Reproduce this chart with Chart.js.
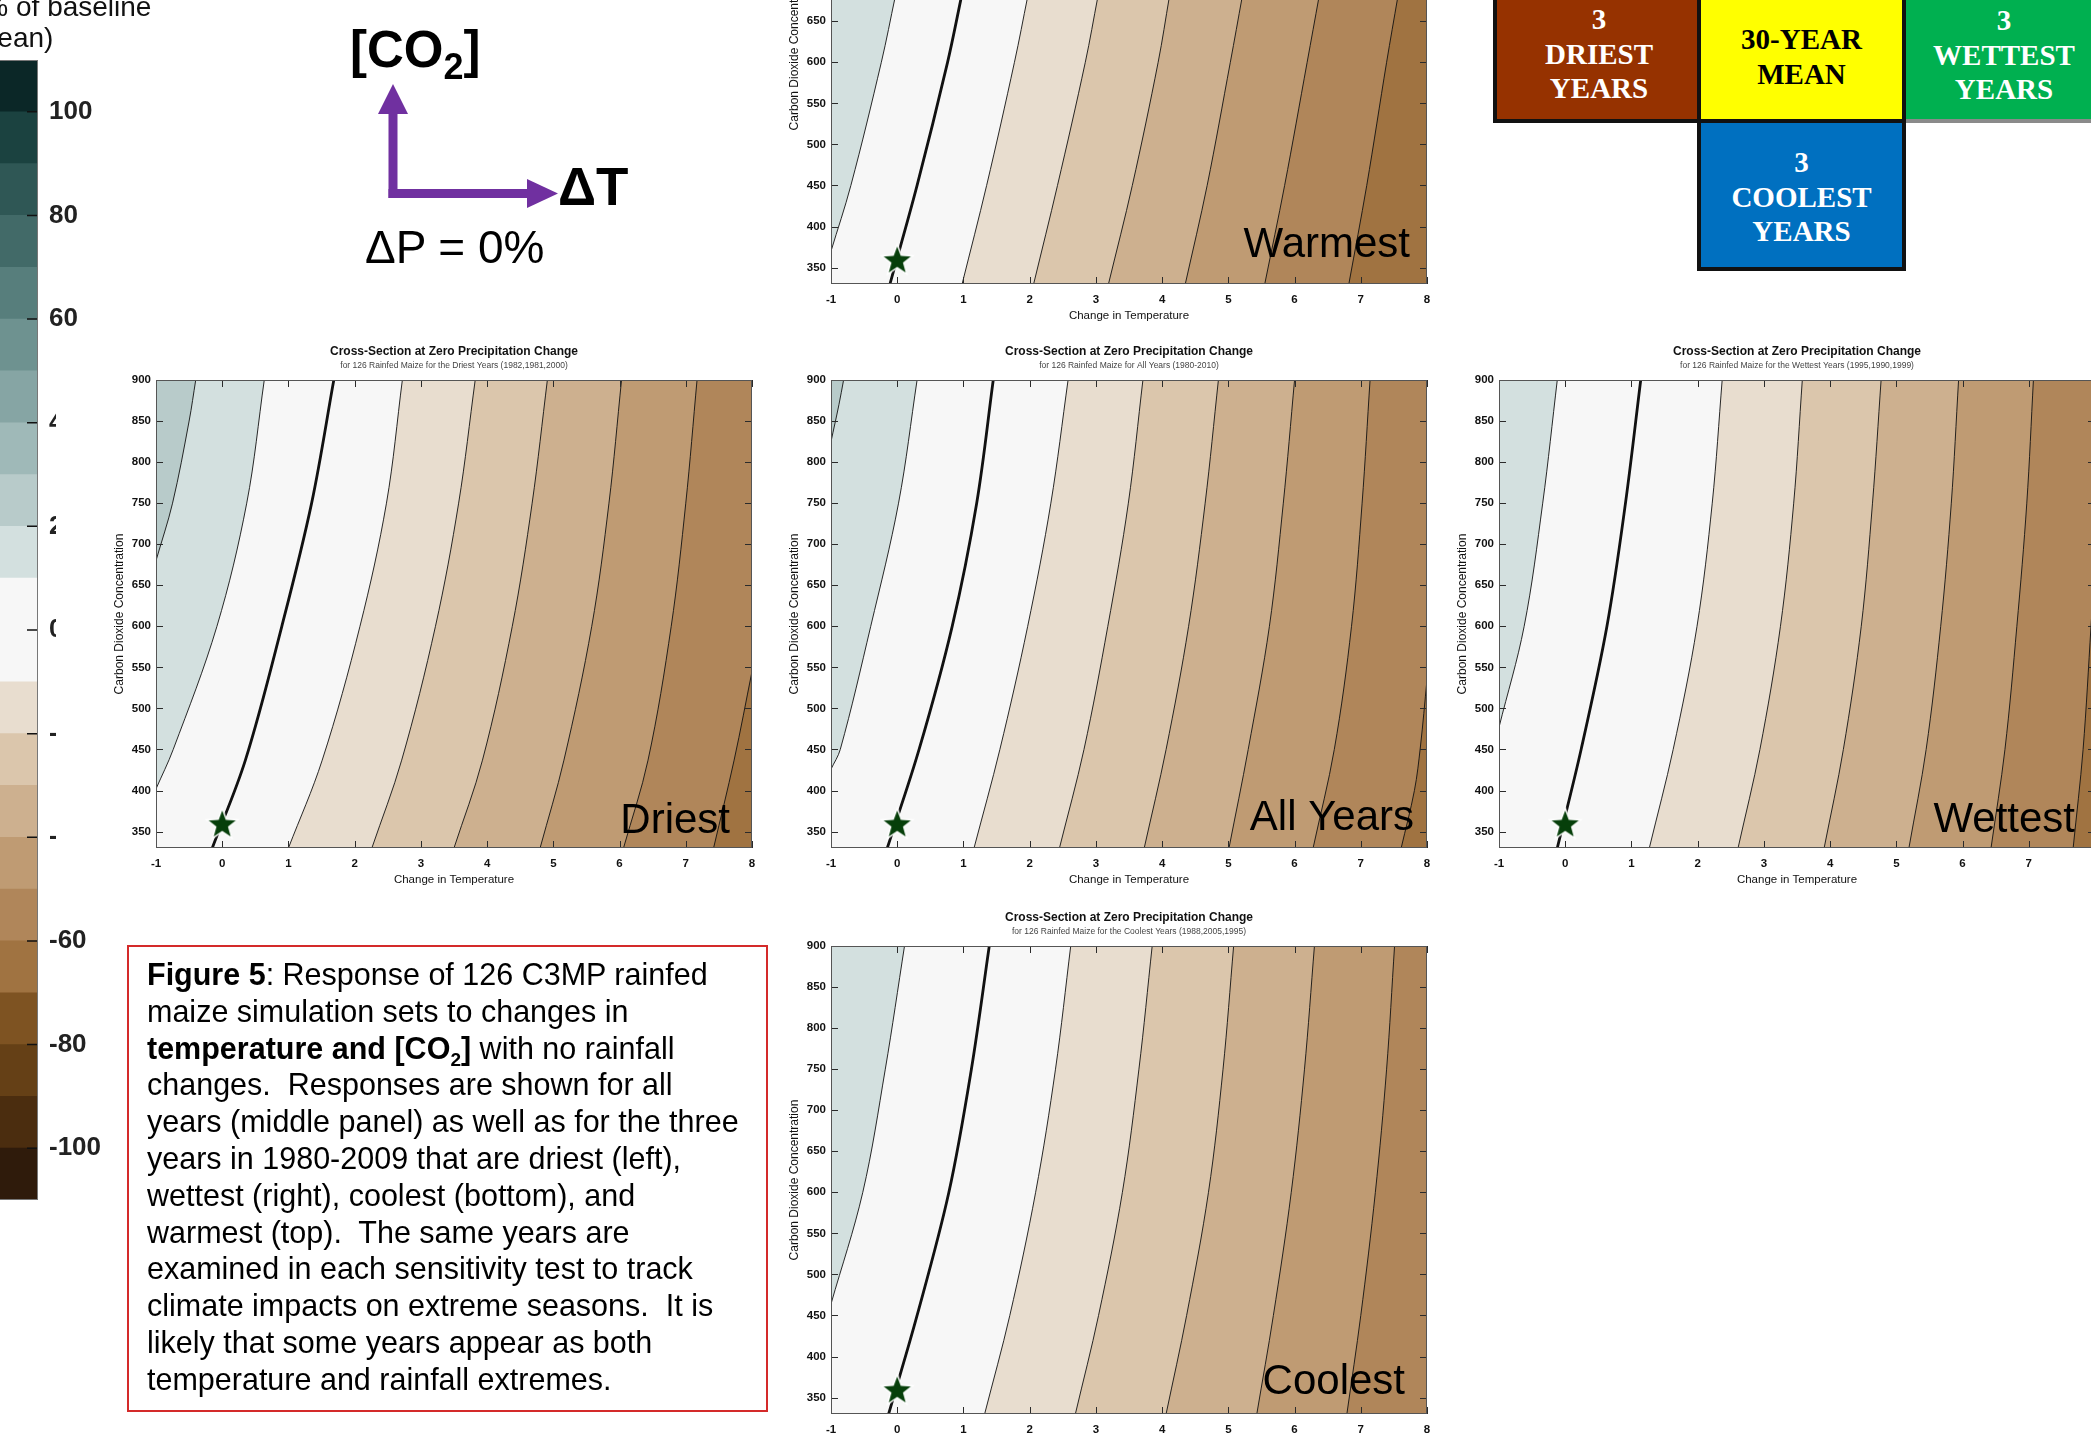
<!DOCTYPE html>
<html>
<head>
<meta charset="utf-8">
<title>Figure 5 - cross-sections at zero precipitation change</title>
<script src="https://cdn.jsdelivr.net/npm/chart.js@4.4.1/dist/chart.umd.min.js"></script>
<style>
  html, body { margin: 0; padding: 0; background: #fff; }
  body {
    position: relative; width: 2091px; height: 1440px; overflow: hidden;
    font-family: 'Liberation Sans', Arial, sans-serif; color: #000;
  }
  canvas { position: absolute; }
  #driest { background: #fff; }
  .abs { position: absolute; white-space: nowrap; line-height: 1; }
  .box {
    position: absolute; box-sizing: border-box; text-align: center;
    font-family: 'Liberation Serif', 'Times New Roman', serif; font-weight: bold;
    font-size: 29px; line-height: 34.5px; color: #fff;
  }
  .box span { position: absolute; left: 0; right: 0; }
  #caption {
    position: absolute; left: 127px; top: 945px; width: 641px; height: 467px;
    box-sizing: border-box; border: 2px solid #d42a2a;
    padding: 9px 0 0 18px; font-size: 30.5px; line-height: 36.8px; white-space: pre;
  }
</style>
</head>
<body>

<canvas id="cbar"></canvas>
<div class="abs" style="left:-26px; top:-9px; font-size:28px; line-height:31px; color:#111;">(% of baseline<br>mean)</div>

<canvas id="driest"></canvas>
<canvas id="allyears"></canvas>
<canvas id="wettest"></canvas>
<canvas id="warmest"></canvas>
<canvas id="coolest"></canvas>

<svg class="abs" style="left:0; top:0;" width="700" height="300">
  <rect x="388.5" y="110" width="9" height="88" fill="#7030a0"/>
  <rect x="388.5" y="189" width="140" height="9" fill="#7030a0"/>
  <polygon points="393,84 378,114 408,114" fill="#7030a0"/>
  <polygon points="558,193.5 527,179 527,208" fill="#7030a0"/>
</svg>
<div class="abs" style="left:350px; top:24px; font-size:51px; font-weight:bold;">[CO<span style="font-size:36px; position:relative; top:12px;">2</span>]</div>
<div class="abs" style="left:558px; top:160px; font-size:53px; font-weight:bold;">ΔT</div>
<div class="abs" style="left:365px; top:224px; font-size:46px;">ΔP = 0%</div>

<div class="box" style="left:1493px; top:-10px; width:208px; height:133px; background:#963200; border:4px solid #111; border-right:none;">
  <span style="top:8px;">3<br>DRIEST<br>YEARS</span>
</div>
<div class="box" style="left:1904px; top:-10px; width:200px; height:133px; background:#00b050; border-bottom:4px solid #8a8a8a;">
  <span style="top:13px;">3<br>WETTEST<br>YEARS</span>
</div>
<div class="box" style="left:1697px; top:-10px; width:209px; height:133px; background:#ffff00; border:4px solid #111; color:#000;">
  <span style="top:28px;">30-YEAR<br>MEAN</span>
</div>
<div class="box" style="left:1697px; top:119px; width:209px; height:152px; background:#0070c0; border:4px solid #111;">
  <span style="top:22px;">3<br>COOLEST<br>YEARS</span>
</div>

<div id="caption"><b>Figure 5</b>: Response of 126 C3MP rainfed
maize simulation sets to changes in
<b>temperature and [CO<sub style="font-size:19px; line-height:0;">2</sub>]</b> with no rainfall
changes.  Responses are shown for all
years (middle panel) as well as for the three
years in 1980-2009 that are driest (left),
wettest (right), coolest (bottom), and
warmest (top).  The same years are
examined in each sensitivity test to track
climate impacts on extreme seasons.  It is
likely that some years appear as both
temperature and rainfall extremes.</div>

<script>
// axes
const tempTicks = [-1, 0, 1, 2, 3, 4, 5, 6, 7, 8];
const co2Ticks = [350, 400, 450, 500, 550, 600, 650, 700, 750, 800, 850, 900];
const tempRange = [-1, 8];
const co2Range = [330, 900];
const baseline = { x: 0, y: 360 };

// colour bar (% of baseline mean), bands of 10 from -110 upwards
const cbarEdges = [-110, -100, -90, -80, -70, -60, -50, -40, -30, -20, -10, 0,
  10, 20, 30, 40, 50, 60, 70, 80, 90, 100, 110];
const cbarColors = ['#2f1b0b', '#4b2d0f', '#654016', '#7e5322', '#a07341', '#b0865a',
  '#bf9b73', '#cdb08f', '#dbc6ac', '#e8ddcf', '#f7f7f7', '#f7f7f7',
  '#d3e0df', '#b8cbca', '#9fb9b8', '#86a5a4', '#6e9290', '#577e7c',
  '#426a68', '#2f5755', '#1b4240', '#0b2727'];
const cbarTicks = [-100, -80, -60, -40, -20, 0, 20, 40, 60, 80, 100];

// contour lines, [change in temperature, CO2] (bottom to top)
const driestLevels = [20, 10, 0, -10, -20, -30, -40, -50, -60];
const driestLines = [
  [[-1, 680], [-0.75, 750], [-0.50, 850], [-0.40, 900]],
  [[-1, 402], [-0.74, 450], [-0.08, 600], [0.37, 750], [0.635, 900]],
  [[-0.15, 330], [0.35, 437], [0.90, 600], [1.35, 750], [1.685, 900]],
  [[1.0, 330], [1.51, 437], [2.08, 600], [2.48, 750], [2.72, 900]],
  [[2.26, 330], [2.71, 437], [3.22, 600], [3.57, 750], [3.82, 900]],
  [[3.50, 330], [3.93, 437], [4.38, 600], [4.68, 750], [4.91, 900]],
  [[4.80, 330], [5.16, 437], [5.58, 600], [5.84, 750], [6.03, 900]],
  [[6.06, 330], [6.43, 437], [6.78, 600], [7.0, 750], [7.17, 900]],
  [[7.42, 330], [7.73, 437], [8, 545]]
];

const allLevels = [20, 10, 0, -10, -20, -30, -40, -50, -60];
const allLines = [
  [[-1, 825], [-0.88, 870], [-0.81, 900]],
  [[-1, 426], [-0.86, 450], [-0.40, 600], [0.02, 750], [0.30, 900]],
  [[-0.15, 330], [0.33, 450], [0.83, 600], [1.20, 750], [1.45, 900]],
  [[1.16, 330], [1.55, 450], [1.97, 600], [2.32, 750], [2.58, 900]],
  [[2.45, 330], [2.82, 450], [3.18, 600], [3.49, 750], [3.71, 900]],
  [[3.73, 330], [4.06, 450], [4.40, 600], [4.65, 750], [4.85, 900]],
  [[5.01, 330], [5.30, 450], [5.62, 600], [5.83, 750], [6.00, 900]],
  [[6.28, 330], [6.60, 450], [6.86, 600], [7.02, 750], [7.14, 900]],
  [[7.61, 330], [7.81, 400], [7.90, 453], [8, 535]]
];

const wettestLevels = [10, 0, -10, -20, -30, -40, -50, -60];
const wettestLines = [
  [[-1, 477], [-0.62, 600], [-0.34, 750], [-0.12, 900]],
  [[-0.12, 330], [0.24, 450], [0.63, 600], [0.91, 750], [1.14, 900]],
  [[1.27, 330], [1.63, 450], [1.99, 600], [2.22, 750], [2.37, 900]],
  [[2.61, 330], [2.94, 450], [3.25, 600], [3.45, 750], [3.58, 900]],
  [[3.91, 330], [4.20, 450], [4.47, 600], [4.64, 750], [4.77, 900]],
  [[5.19, 330], [5.45, 450], [5.67, 600], [5.83, 750], [5.94, 900]],
  [[6.43, 330], [6.64, 450], [6.82, 600], [6.97, 750], [7.07, 900]],
  [[7.67, 330], [7.82, 450], [7.94, 600], [8, 680]]
];

const coolestLevels = [10, 0, -10, -20, -30, -40, -50];
const coolestLines = [
  [[-1, 464], [-0.52, 600], [-0.18, 750], [0.11, 900]],
  [[-0.13, 330], [0.30, 450], [0.78, 600], [1.12, 750], [1.39, 900]],
  [[1.32, 330], [1.70, 450], [2.09, 600], [2.39, 750], [2.62, 900]],
  [[2.69, 330], [3.04, 450], [3.40, 600], [3.65, 750], [3.85, 900]],
  [[4.06, 330], [4.37, 450], [4.70, 600], [4.92, 750], [5.08, 900]],
  [[5.43, 330], [5.68, 450], [5.95, 600], [6.15, 750], [6.30, 900]],
  [[6.79, 330], [7.00, 450], [7.22, 600], [7.39, 750], [7.51, 900]]
];

// only the lower part of this panel is on the page
const warmestLevels = [10, 0, -10, -20, -30, -40, -50, -60];
const warmestLines = [
  [[-1, 370], [-0.70, 450], [-0.24, 600], [-0.03, 680]],
  [[-0.11, 330], [0.30, 450], [0.76, 600], [0.97, 680]],
  [[0.98, 330], [1.35, 450], [1.77, 600], [1.97, 680]],
  [[2.06, 330], [2.42, 450], [2.84, 600], [3.03, 680]],
  [[3.19, 330], [3.55, 450], [3.94, 600], [4.11, 680]],
  [[4.35, 330], [4.68, 450], [5.03, 600], [5.21, 680]],
  [[5.55, 330], [5.85, 450], [6.19, 600], [6.37, 680]],
  [[6.82, 330], [7.09, 450], [7.39, 600], [7.56, 680]]
];

const panelTitle = 'Cross-Section at Zero Precipitation Change';

Chart.defaults.font.family = '"Liberation Sans", Arial, sans-serif';
Chart.defaults.color = '#111';

const PLOT_W = 596;
const PLOT_H = 468;
const CURVE_TENSION = 0.35;

function makeStar(size) {
  const c = document.createElement('canvas');
  c.width = size;
  c.height = size;
  const g = c.getContext('2d');
  const R = size / 2 - 1.5;
  const r = R * 0.42;
  const cx = size / 2;
  const cy = size / 2 + 1.5;
  g.beginPath();
  for (let i = 0; i < 10; i += 1) {
    const a = -Math.PI / 2 + i * Math.PI / 5;
    const rr = i % 2 ? r : R;
    g.lineTo(cx + rr * Math.cos(a), cy + rr * Math.sin(a));
  }
  g.closePath();
  g.fillStyle = '#063f0a';
  g.fill();
  g.strokeStyle = '#fff';
  g.lineWidth = 1.5;
  g.stroke();
  return c;
}
const starImg = makeStar(36);

const axisBox = {
  id: 'axisBox',
  afterDatasetsDraw(chart) {
    const { ctx, chartArea: a, scales } = chart;
    const len = 7;
    ctx.save();
    ctx.strokeStyle = '#2b2b2b';
    ctx.lineWidth = 1;
    ctx.beginPath();
    scales.x.ticks.forEach(t => {
      const px = Math.round(scales.x.getPixelForValue(t.value)) + 0.5;
      ctx.moveTo(px, a.bottom);
      ctx.lineTo(px, a.bottom - len);
      ctx.moveTo(px, a.top);
      ctx.lineTo(px, a.top + len);
    });
    scales.y.ticks.forEach(t => {
      const py = Math.round(scales.y.getPixelForValue(t.value)) + 0.5;
      ctx.moveTo(a.left, py);
      ctx.lineTo(a.left + len, py);
      ctx.moveTo(a.right, py);
      ctx.lineTo(a.right - len, py);
    });
    ctx.stroke();
    ctx.strokeStyle = '#555';
    ctx.strokeRect(a.left + 0.5, a.top + 0.5, a.width - 1, a.height - 1);
    ctx.restore();
  }
};

const cornerLabel = {
  id: 'cornerLabel',
  afterDatasetsDraw(chart, _args, opts) {
    if (!opts || !opts.text) return;
    const { ctx, chartArea: a } = chart;
    ctx.save();
    ctx.font = '42px "Liberation Sans", Arial, sans-serif';
    ctx.fillStyle = '#000';
    ctx.textAlign = 'right';
    ctx.textBaseline = 'alphabetic';
    ctx.fillText(opts.text, a.right - opts.dx, a.bottom - opts.dy);
    ctx.restore();
  }
};

function bandColor(lower) {
  return cbarColors[(lower - cbarEdges[0]) / 10];
}

function extendPoint(a, b, k) {
  return [a[0] + (a[0] - b[0]) * k, a[1] + (a[1] - b[1]) * k];
}

// the contour carried a little past the frame at both ends so the smoothed curve
// keeps its direction where it meets the axes; listed top to bottom
function contourPath(line) {
  const n = line.length;
  return [
    extendPoint(line[0], line[1], 1.5),
    extendPoint(line[0], line[1], 0.3),
    ...line,
    extendPoint(line[n - 1], line[n - 2], 0.3),
    extendPoint(line[n - 1], line[n - 2], 1.5)
  ].reverse();
}

// everything to the right of a contour, closed outside the plot area (clipped away)
function regionRightOf(path) {
  const farRight = tempRange[1] + 2;
  const farLeft = tempRange[0] - 2;
  const below = co2Range[0] - 80;
  return [[farRight, below], [farRight, path[0][1]], ...path, [farLeft, below]];
}

function toXY(pts) {
  return pts.map(([x, y]) => ({ x, y }));
}

function drawPanel(id, cfg) {
  const { lines, levels, subtitle, label, labelDx, labelDy, plotLeft, plotTop } = cfg;
  const canvas = document.getElementById(id);
  canvas.width = PLOT_W + 120;
  canvas.height = PLOT_H + 90;
  canvas.style.left = (plotLeft - 100) + 'px';
  canvas.style.top = (plotTop - 45) + 'px';

  const paths = lines.map(contourPath);
  const farRight = tempRange[1] + 2;
  const farLeft = tempRange[0] - 2;
  const below = co2Range[0] - 80;
  const above = co2Range[1] + 100;

  const fills = [{
    data: toXY([[farRight, below], [farRight, above], [farLeft, above], [farLeft, below]]),
    showLine: true,
    fill: 'shape',
    tension: 0,
    backgroundColor: bandColor(levels[0]),
    borderWidth: 0,
    pointRadius: 0,
    order: 200
  }];
  paths.forEach((path, i) => {
    fills.push({
      data: toXY(regionRightOf(path)),
      showLine: true,
      fill: 'shape',
      tension: CURVE_TENSION,
      backgroundColor: bandColor(levels[i] - 10),
      borderWidth: 0,
      pointRadius: 0,
      order: 100 - i
    });
  });

  const contours = paths.map((path, i) => ({
    data: toXY(path),
    showLine: true,
    fill: false,
    tension: CURVE_TENSION,
    borderColor: '#111',
    borderWidth: levels[i] === 0 ? 2.8 : 0.9,
    pointRadius: 0,
    clip: 0,
    order: 2
  }));

  const star = {
    data: [baseline],
    pointStyle: starImg,
    pointRadius: 16,
    order: 1
  };

  return new Chart(canvas, {
    type: 'scatter',
    data: { datasets: [...fills, ...contours, star] },
    options: {
      responsive: false,
      animation: false,
      devicePixelRatio: 1,
      events: [],
      layout: { padding: { top: 9.5, right: 20, bottom: 0, left: 0 } },
      plugins: {
        legend: { display: false },
        tooltip: { enabled: false },
        title: {
          display: true,
          text: panelTitle,
          fullSize: false,
          color: '#111',
          font: { size: 12, weight: 'bold' },
          padding: { top: 0, bottom: 1.8 }
        },
        subtitle: {
          display: true,
          text: subtitle,
          fullSize: false,
          color: '#444',
          font: { size: 8.5 },
          padding: { top: 0, bottom: 9.1 }
        },
        cornerLabel: { text: label, dx: labelDx, dy: labelDy }
      },
      scales: {
        x: {
          type: 'linear',
          min: tempRange[0],
          max: tempRange[1],
          afterBuildTicks: s => { s.ticks = tempTicks.map(v => ({ value: v })); },
          afterFit: s => { s.height = 45; },
          grid: { display: false, drawTicks: false },
          border: { display: false },
          ticks: { padding: 9, color: '#111', font: { size: 11.5, weight: 'bold' } },
          title: {
            display: true,
            text: 'Change in Temperature',
            color: '#111',
            font: { size: 11.5 },
            padding: { top: 0, bottom: 5.8 }
          }
        },
        y: {
          type: 'linear',
          min: co2Range[0],
          max: co2Range[1],
          afterBuildTicks: s => { s.ticks = co2Ticks.map(v => ({ value: v })); },
          afterFit: s => { s.width = 100; },
          grid: { display: false, drawTicks: false },
          border: { display: false },
          ticks: { padding: 5, color: '#111', font: { size: 11.5, weight: 'bold' } },
          title: {
            display: true,
            text: 'Carbon Dioxide Concentration',
            color: '#111',
            font: { size: 12 },
            padding: { top: 56.8, bottom: 0 }
          }
        }
      }
    },
    plugins: [axisBox, cornerLabel]
  });
}

function drawColorbar() {
  const canvas = document.getElementById('cbar');
  canvas.width = 168;
  canvas.height = 1164;
  canvas.style.left = '-40px';
  canvas.style.top = '48px';

  const cbarFrame = {
    id: 'cbarFrame',
    afterDatasetsDraw(chart) {
      const { ctx, chartArea: a, scales: { y } } = chart;
      ctx.save();
      ctx.strokeStyle = '#111';
      ctx.lineWidth = 1.5;
      ctx.beginPath();
      y.ticks.forEach(t => {
        const py = y.getPixelForValue(t.value);
        ctx.moveTo(a.right, py);
        ctx.lineTo(a.right - 11, py);
      });
      ctx.stroke();
      ctx.strokeStyle = '#777';
      ctx.lineWidth = 1;
      ctx.strokeRect(a.left + 0.5, a.top + 0.5, a.width - 1, a.height - 1);
      ctx.restore();
    }
  };

  return new Chart(canvas, {
    type: 'bar',
    data: {
      labels: [''],
      datasets: cbarColors.map((color, i) => ({
        data: [[cbarEdges[i], cbarEdges[i + 1]]],
        backgroundColor: color,
        borderWidth: 0,
        grouped: false,
        barPercentage: 1,
        categoryPercentage: 1
      }))
    },
    options: {
      responsive: false,
      animation: false,
      devicePixelRatio: 1,
      events: [],
      layout: { padding: { top: 12, bottom: 12, left: 0, right: 0 } },
      plugins: { legend: { display: false }, tooltip: { enabled: false } },
      scales: {
        x: { display: false },
        y: {
          position: 'right',
          min: cbarEdges[0],
          max: cbarEdges[cbarEdges.length - 1],
          afterBuildTicks: s => { s.ticks = cbarTicks.map(v => ({ value: v })); },
          afterFit: s => { s.width = 90; s.paddingTop = 0; s.paddingBottom = 0; },
          grid: { display: false, drawTicks: false },
          border: { display: false },
          ticks: { padding: 11, color: '#222', font: { size: 26, weight: 'bold' } }
        }
      }
    },
    plugins: [cbarFrame]
  });
}

drawColorbar();

drawPanel('driest', {
  lines: driestLines, levels: driestLevels,
  subtitle: 'for 126 Rainfed Maize for the Driest Years (1982,1981,2000)',
  label: 'Driest', labelDx: 22, labelDy: 15,
  plotLeft: 156, plotTop: 380
});
drawPanel('allyears', {
  lines: allLines, levels: allLevels,
  subtitle: 'for 126 Rainfed Maize for All Years (1980-2010)',
  label: 'All Years', labelDx: 13, labelDy: 18,
  plotLeft: 831, plotTop: 380
});
drawPanel('wettest', {
  lines: wettestLines, levels: wettestLevels,
  subtitle: 'for 126 Rainfed Maize for the Wettest Years (1995,1990,1999)',
  label: 'Wettest', labelDx: 20, labelDy: 16,
  plotLeft: 1499, plotTop: 380
});
drawPanel('warmest', {
  lines: warmestLines, levels: warmestLevels,
  subtitle: 'for 126 Rainfed Maize for the Warmest Years',
  label: 'Warmest', labelDx: 17, labelDy: 27,
  plotLeft: 831, plotTop: -184
});
drawPanel('coolest', {
  lines: coolestLines, levels: coolestLevels,
  subtitle: 'for 126 Rainfed Maize for the Coolest Years (1988,2005,1995)',
  label: 'Coolest', labelDx: 22, labelDy: 20,
  plotLeft: 831, plotTop: 946
});
</script>
</body>
</html>
